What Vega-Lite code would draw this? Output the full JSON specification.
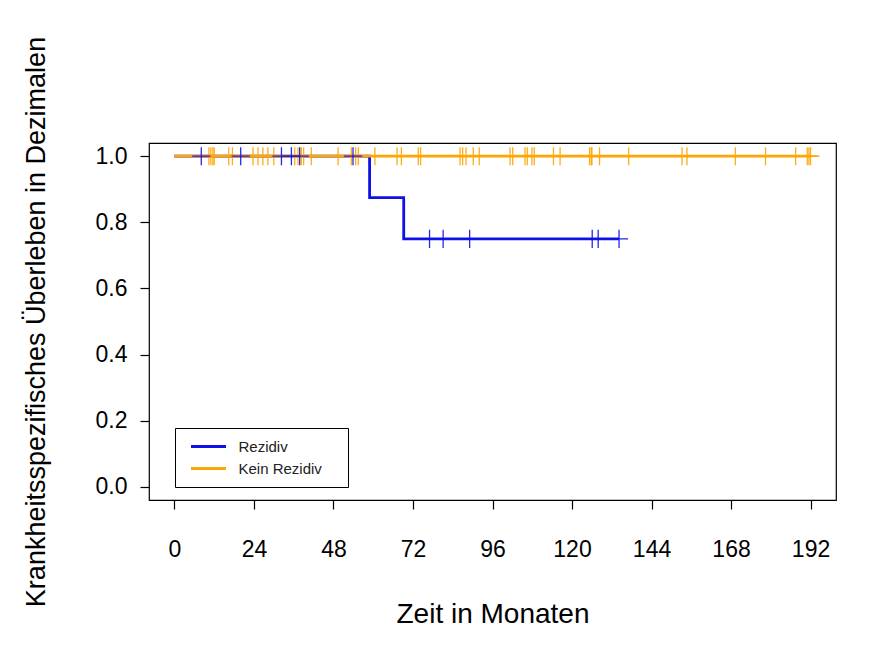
{
  "$schema": "https://vega.github.io/schema/vega-lite/v6.json",
  "width": 687,
  "height": 357,
  "autosize": {"type": "none"},
  "padding": {"left": 149, "top": 143, "right": 60, "bottom": 162},
  "background": "white",
  "config": {
    "font": "Liberation Sans",
    "view": {"stroke": "black", "strokeWidth": 1.2},
    "axis": {"grid": false, "domain": false, "tickColor": "black", "labelColor": "black", "titleColor": "black", "labelFont": "Liberation Sans", "titleFont": "Liberation Sans", "labelFontSize": 23, "titleFontSize": 27, "titleFontWeight": "normal", "tickWidth": 1.2}
  },
  "datasets": {
    "steps": [
      {"group": "Rezidiv", "time": 0, "surv": 1.0},
      {"group": "Rezidiv", "time": 58.9, "surv": 0.875},
      {"group": "Rezidiv", "time": 69.2, "surv": 0.75},
      {"group": "Rezidiv", "time": 134.2, "surv": 0.75},
      {"group": "Kein Rezidiv", "time": 0, "surv": 1.0},
      {"group": "Kein Rezidiv", "time": 192, "surv": 1.0}
    ],
    "censor": [
      {"group": "Kein Rezidiv", "time": 10.4, "surv": 1},
      {"group": "Kein Rezidiv", "time": 11.0, "surv": 1},
      {"group": "Kein Rezidiv", "time": 11.6, "surv": 1},
      {"group": "Kein Rezidiv", "time": 12.0, "surv": 1},
      {"group": "Kein Rezidiv", "time": 16.4, "surv": 1},
      {"group": "Kein Rezidiv", "time": 17.5, "surv": 1},
      {"group": "Kein Rezidiv", "time": 23.7, "surv": 1},
      {"group": "Kein Rezidiv", "time": 25.2, "surv": 1},
      {"group": "Kein Rezidiv", "time": 26.7, "surv": 1},
      {"group": "Kein Rezidiv", "time": 28.2, "surv": 1},
      {"group": "Kein Rezidiv", "time": 30.0, "surv": 1},
      {"group": "Kein Rezidiv", "time": 36.3, "surv": 1},
      {"group": "Kein Rezidiv", "time": 37.3, "surv": 1},
      {"group": "Kein Rezidiv", "time": 38.3, "surv": 1},
      {"group": "Kein Rezidiv", "time": 39.0, "surv": 1},
      {"group": "Kein Rezidiv", "time": 41.3, "surv": 1},
      {"group": "Kein Rezidiv", "time": 49.4, "surv": 1},
      {"group": "Kein Rezidiv", "time": 53.4, "surv": 1},
      {"group": "Kein Rezidiv", "time": 54.7, "surv": 1},
      {"group": "Kein Rezidiv", "time": 55.5, "surv": 1},
      {"group": "Kein Rezidiv", "time": 60.5, "surv": 1},
      {"group": "Kein Rezidiv", "time": 67.2, "surv": 1},
      {"group": "Kein Rezidiv", "time": 68.5, "surv": 1},
      {"group": "Kein Rezidiv", "time": 73.6, "surv": 1},
      {"group": "Kein Rezidiv", "time": 74.3, "surv": 1},
      {"group": "Kein Rezidiv", "time": 86.2, "surv": 1},
      {"group": "Kein Rezidiv", "time": 87.0, "surv": 1},
      {"group": "Kein Rezidiv", "time": 88.0, "surv": 1},
      {"group": "Kein Rezidiv", "time": 90.2, "surv": 1},
      {"group": "Kein Rezidiv", "time": 92.0, "surv": 1},
      {"group": "Kein Rezidiv", "time": 101.3, "surv": 1},
      {"group": "Kein Rezidiv", "time": 102.1, "surv": 1},
      {"group": "Kein Rezidiv", "time": 105.8, "surv": 1},
      {"group": "Kein Rezidiv", "time": 106.5, "surv": 1},
      {"group": "Kein Rezidiv", "time": 107.9, "surv": 1},
      {"group": "Kein Rezidiv", "time": 108.6, "surv": 1},
      {"group": "Kein Rezidiv", "time": 114.4, "surv": 1},
      {"group": "Kein Rezidiv", "time": 116.4, "surv": 1},
      {"group": "Kein Rezidiv", "time": 125.3, "surv": 1},
      {"group": "Kein Rezidiv", "time": 125.8, "surv": 1},
      {"group": "Kein Rezidiv", "time": 126.0, "surv": 1},
      {"group": "Kein Rezidiv", "time": 128.3, "surv": 1},
      {"group": "Kein Rezidiv", "time": 137.1, "surv": 1},
      {"group": "Kein Rezidiv", "time": 153.2, "surv": 1},
      {"group": "Kein Rezidiv", "time": 154.7, "surv": 1},
      {"group": "Kein Rezidiv", "time": 169.3, "surv": 1},
      {"group": "Kein Rezidiv", "time": 178.4, "surv": 1},
      {"group": "Kein Rezidiv", "time": 187.5, "surv": 1},
      {"group": "Kein Rezidiv", "time": 191.0, "surv": 1},
      {"group": "Kein Rezidiv", "time": 191.5, "surv": 1},
      {"group": "Kein Rezidiv", "time": 192.0, "surv": 1},
      {"group": "Rezidiv", "time": 8.1, "surv": 1},
      {"group": "Rezidiv", "time": 20.0, "surv": 1},
      {"group": "Rezidiv", "time": 32.3, "surv": 1},
      {"group": "Rezidiv", "time": 35.3, "surv": 1},
      {"group": "Rezidiv", "time": 37.8, "surv": 1},
      {"group": "Rezidiv", "time": 53.9, "surv": 1},
      {"group": "Rezidiv", "time": 77.0, "surv": 0.75},
      {"group": "Rezidiv", "time": 81.1, "surv": 0.75},
      {"group": "Rezidiv", "time": 89.1, "surv": 0.75},
      {"group": "Rezidiv", "time": 126.1, "surv": 0.75},
      {"group": "Rezidiv", "time": 127.9, "surv": 0.75},
      {"group": "Rezidiv", "time": 134.2, "surv": 0.75}
    ]
  },
  "layer": [
    {
      "data": {"name": "steps"},
      "mark": {"type": "line", "interpolate": "step-after", "strokeWidth": 2.8, "clip": false},
      "encoding": {
        "x": {"field": "time", "type": "quantitative", "scale": {"domain": [-7.68, 199.68], "nice": false, "zero": false},
              "axis": {"values": [0, 24, 48, 72, 96, 120, 144, 168, 192], "title": "Zeit in Monaten", "titleFontSize": 28, "tickSize": 9, "labelPadding": 29, "titlePadding": 39}},
        "y": {"field": "surv", "type": "quantitative", "scale": {"domain": [-0.04, 1.04], "nice": false, "zero": false},
              "axis": {"values": [0, 0.2, 0.4, 0.6, 0.8, 1.0], "format": ".1f", "title": "Krankheitsspezifisches Überleben in Dezimalen", "tickSize": 9, "labelPadding": 13, "titlePadding": 45}},
        "color": {"field": "group", "type": "nominal",
                  "scale": {"domain": ["Rezidiv", "Kein Rezidiv"], "range": ["#1010E8", "#FFA500"]},
                  "legend": {"title": null, "orient": "none", "legendX": 26, "legendY": 285, "symbolType": "M-2.5,0H2.5", "symbolStrokeWidth": 3, "symbolSize": 196, "symbolOffset": 15, "labelFontSize": 15, "labelFont": "Liberation Sans", "labelColor": "#222", "labelOffset": 21.5, "labelExpr": "datum.label + '\u00a0\u2800'", "fillColor": "white", "strokeColor": "black", "padding": 10, "rowPadding": 5}},
        "order": {"field": "time", "type": "quantitative"}
      }
    },
    {
      "data": {"name": "censor"},
      "mark": {"type": "point", "shape": "M-1,0H1M0,-1V1", "filled": false, "strokeWidth": 1.3, "size": 330, "opacity": 0.9},
      "encoding": {
        "x": {"field": "time", "type": "quantitative"},
        "y": {"field": "surv", "type": "quantitative"},
        "color": {"field": "group", "type": "nominal", "legend": null}
      }
    },
    {
      "mark": {"type": "text", "fontSize": 12, "font": "Liberation Sans", "color": "#222"},
      "encoding": {"x": {"datum": 142.5}, "y": {"datum": 0.955}, "text": {"value": "n = 51"}}
    },
    {
      "mark": {"type": "text", "fontSize": 12, "font": "Liberation Sans", "color": "#222"},
      "encoding": {"x": {"datum": 109.6}, "y": {"datum": 0.70}, "text": {"value": "n = 14"}}
    },
    {
      "mark": {"type": "text", "fontSize": 20, "fontWeight": "bold", "font": "Liberation Sans", "color": "black"},
      "encoding": {"x": {"datum": 168.5}, "y": {"datum": 0.106}, "text": {"value": "p = 0.009"}}
    }
  ]
}
